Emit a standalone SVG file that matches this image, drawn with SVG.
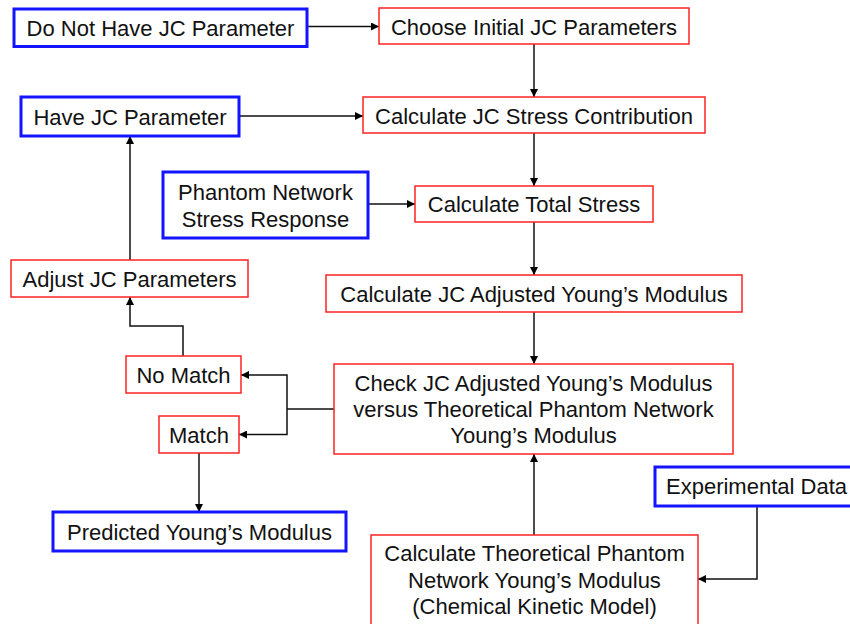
<svg xmlns="http://www.w3.org/2000/svg" width="850" height="624" viewBox="0 0 850 624">
  <defs>
    <marker id="arrow" viewBox="0 0 10 10" refX="10" refY="5" markerWidth="8" markerHeight="8" markerUnits="userSpaceOnUse" orient="auto">
      <path d="M0,0 L10,5 L0,10 z" fill="#000"/>
    </marker>
    <style>
      .input rect { fill: #fff; stroke: #1414ff; stroke-width: 3; }
      .step rect { fill: #fff; stroke: #ff2222; stroke-width: 1.5; }
      text { font-family: "Liberation Sans", Arial, sans-serif; font-size: 22px; fill: #111; text-anchor: middle; }
      .conn path { fill: none; stroke: #111; stroke-width: 1.5; }
      .conn path.arr { marker-end: url(#arrow); }
    </style>
  </defs>
  <rect width="850" height="624" fill="#fff"/>

  <!-- connectors -->
  <g id="connectors" class="conn">
    <path class="arr" d="M307,26.5 H379"/>
    <path class="arr" d="M534,44 V97"/>
    <path class="arr" d="M239,116 H363"/>
    <path class="arr" d="M534,133 V186"/>
    <path class="arr" d="M368,204 H415"/>
    <path class="arr" d="M534,222 V275"/>
    <path class="arr" d="M534,312 V364"/>
    <path class="arr" d="M534,535 V454"/>
    <path class="arr" d="M757,506 V579 H698"/>
    <path d="M334,409 H287"/>
    <path class="arr" d="M287,409 V375 H241"/>
    <path class="arr" d="M287,409 V434.5 H239"/>
    <path class="arr" d="M183,356 V326 H130 V297"/>
    <path class="arr" d="M130,260 V136"/>
    <path class="arr" d="M199,453 V512"/>
  </g>

  <g id="do-not-have" class="input">
    <rect x="14" y="9" width="293" height="37.5"/>
    <text x="160.5" y="36">Do Not Have JC Parameter</text>
  </g>
  <g id="choose-initial" class="step">
    <rect x="379" y="8" width="310" height="36"/>
    <text x="534" y="35">Choose Initial JC Parameters</text>
  </g>
  <g id="have-jc" class="input">
    <rect x="21" y="97" width="218" height="39"/>
    <text x="130" y="124.5">Have JC Parameter</text>
  </g>
  <g id="calc-jc-stress" class="step">
    <rect x="363" y="97" width="342" height="36"/>
    <text x="534" y="123.5">Calculate JC Stress Contribution</text>
  </g>
  <g id="phantom-stress" class="input">
    <rect x="163" y="172" width="205" height="66"/>
    <text x="265.5" y="200">Phantom Network</text>
    <text x="265.5" y="227">Stress Response</text>
  </g>
  <g id="calc-total" class="step">
    <rect x="415" y="186" width="238" height="36"/>
    <text x="534" y="212">Calculate Total Stress</text>
  </g>
  <g id="adjust-jc" class="step">
    <rect x="11" y="260" width="237" height="37"/>
    <text x="129.5" y="287">Adjust JC Parameters</text>
  </g>
  <g id="calc-adjusted" class="step">
    <rect x="326" y="275" width="416" height="37"/>
    <text x="534" y="302">Calculate JC Adjusted Young’s Modulus</text>
  </g>
  <g id="no-match" class="step">
    <rect x="126" y="356" width="115" height="37"/>
    <text x="183.5" y="383">No Match</text>
  </g>
  <g id="match" class="step">
    <rect x="159" y="416" width="80" height="37"/>
    <text x="199" y="443">Match</text>
  </g>
  <g id="check" class="step">
    <rect x="334" y="364" width="399" height="90"/>
    <text x="533.5" y="391">Check JC Adjusted Young’s Modulus</text>
    <text x="533.5" y="417">versus Theoretical Phantom Network</text>
    <text x="533.5" y="443">Young’s Modulus</text>
  </g>
  <g id="predicted" class="input">
    <rect x="53" y="512" width="293" height="39"/>
    <text x="199.5" y="540">Predicted Young’s Modulus</text>
  </g>
  <g id="experimental" class="input">
    <rect x="655" y="467" width="203" height="39"/>
    <text x="756.5" y="494">Experimental Data</text>
  </g>
  <g id="calc-theoretical" class="step">
    <rect x="371" y="535" width="327" height="95"/>
    <text x="534.5" y="561">Calculate Theoretical Phantom</text>
    <text x="534.5" y="588">Network Young’s Modulus</text>
    <text x="534.5" y="614">(Chemical Kinetic Model)</text>
  </g>
</svg>
